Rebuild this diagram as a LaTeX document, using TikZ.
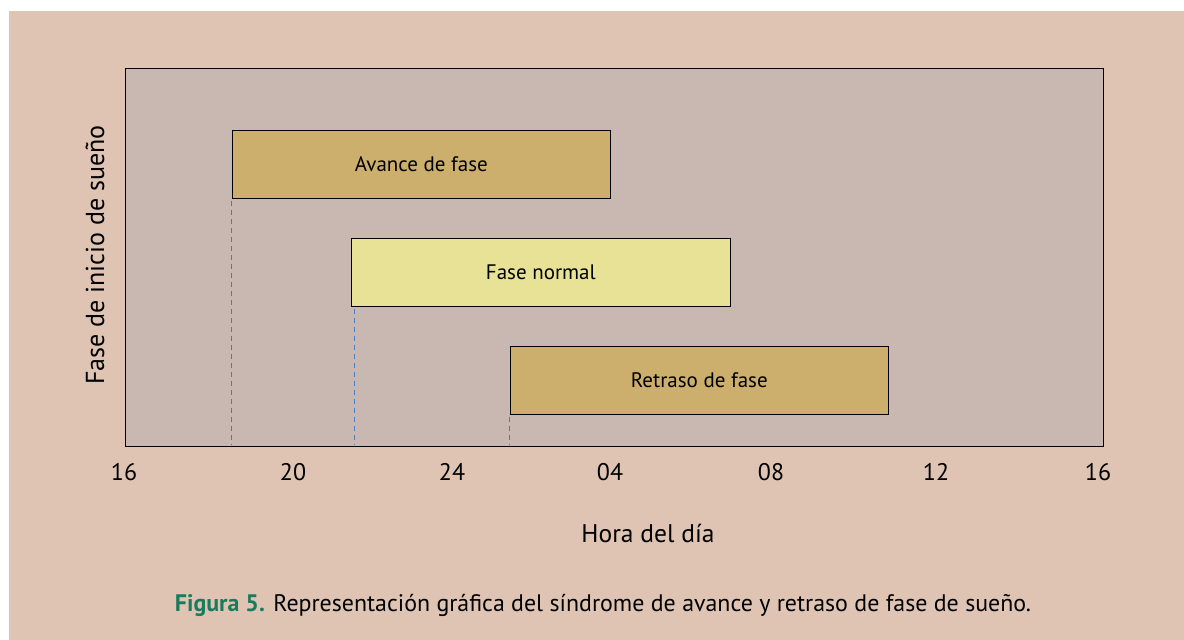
\documentclass[tikz,border=0pt]{standalone}
\usepackage{fontspec}
\setmainfont{PT Sans}
\definecolor{outerbg}{HTML}{DFC4B3}
\definecolor{plotbg}{HTML}{C9B8B1}
\definecolor{gold}{HTML}{CCAE6D}
\definecolor{paleyellow}{HTML}{E8E297}
\definecolor{capgreen}{HTML}{1A7B5C}
\definecolor{dashred}{HTML}{C8504A}
\definecolor{dashblue}{HTML}{4A80C8}
\tikzset{
  phasebox/.style={draw=black, line width=1.2pt, minimum width=378.5pt, minimum height=67.5pt, inner sep=0pt, anchor=north west, font=\fontsize{21}{24}\selectfont},
  guide/.style={dashed, dash pattern=on 5pt off 4pt, line width=1pt},
  tick/.style={font=\fontsize{24}{27}\selectfont, anchor=center},
}
\begin{document}
\begin{tikzpicture}[x=1pt,y=-1pt]
\useasboundingbox (0,0) rectangle (1184,640);
\fill[white] (0,0) rectangle (1184,640);
\fill[outerbg] (9,11) rectangle (1184,640);
\node[draw=black, line width=1.6pt, fill=plotbg, minimum width=978pt, minimum height=378pt, inner sep=0pt, anchor=north west] (frame) at (124.5,67.5) {};
\node[phasebox, fill=gold] (avance) at (231.5,130) {Avance de fase};
\node[phasebox, fill=paleyellow] (normal) at (351,238) {Fase normal};
\node[phasebox, fill=gold] (retraso) at (509.5,346) {Retraso de fase};
\coordinate (a1) at (231.5,445);
\coordinate (n1) at (354.5,445);
\coordinate (r1) at (509.5,445);
\draw[guide, dashred] ([yshift=-2pt]avance.south west) -- (a1);
\draw[guide, dashblue] ([xshift=3.5pt,yshift=-2pt]normal.south west) -- (n1);
\draw[guide, dashred] ([yshift=-2pt]retraso.south west) -- (r1);
\node[tick] (t16a) at (124,472) {16};
\node[tick] (t20) at (293,472) {20};
\node[tick] (t24) at (452,472) {24};
\node[tick] (t04) at (610,472) {04};
\node[tick] (t08) at (771,472) {08};
\node[tick] (t12) at (936,472) {12};
\node[tick] (t16b) at (1098,472) {16};
\node[font=\fontsize{25.5}{28}\selectfont] (xlabel) at (648,533) {Hora del día};
\node[font=\fontsize{26}{29}\selectfont, rotate=90] (ylabel) at (95,255) {Fase de inicio de sueño};
\node[font=\fontsize{23.9}{27}\selectfont] (caption) at (603,605) {\textcolor{capgreen}{\bfseries Figura 5.} Representación gráfica del síndrome de avance y retraso de fase de sueño.};
\end{tikzpicture}
\end{document}
